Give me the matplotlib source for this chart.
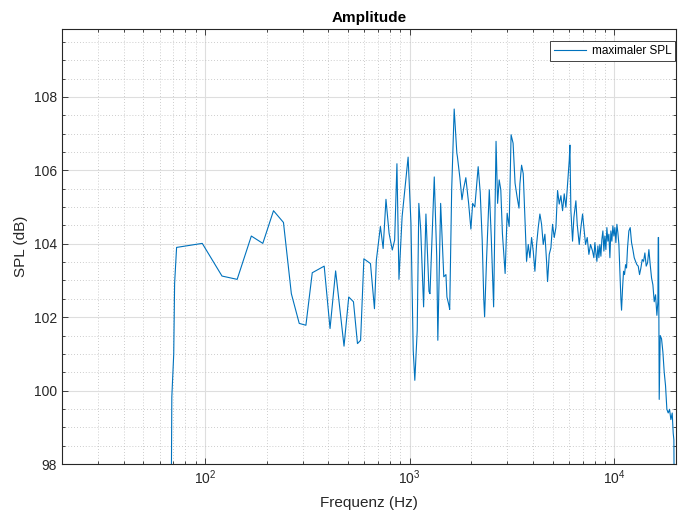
import matplotlib
matplotlib.use("Agg")
import matplotlib.pyplot as plt
from matplotlib.ticker import LogLocator, MultipleLocator, NullFormatter

# maximaler SPL
freq = [67.3, 68.8, 70.3, 71.0, 72.6, 96.9, 121, 143.5, 168.3, 191.5,
        216, 241.6, 264, 288.5, 311, 334, 382, 408, 434.5, 477.5,
        503.5, 531, 555.5, 575.4, 597, 643, 672.5, 687, 719, 741.5,
        765.5, 793, 822, 844, 866, 886, 918, 982, 1014, 1040,
        1059, 1088, 1108, 1132, 1169, 1200, 1242, 1256, 1318, 1355, 1372,
        1416, 1467, 1503, 1520, 1553, 1568, 1603, 1649, 1660, 1699, 1710, 1758,
        1800, 1833, 1880, 1940, 1990, 2030, 2080, 2160, 2210, 2260,
        2300, 2322, 2373, 2448, 2502, 2570, 2641, 2688, 2736, 2786,
        2837, 2925, 2992, 3061, 3128, 3199, 3271, 3343, 3419,
        3454, 3520, 3586, 3654, 3723, 3794, 3866, 3939, 4013, 4089,
        4167, 4245, 4325, 4408, 4491, 4576, 4662, 4715, 4805, 4896,
        4988, 5083, 5179, 5277, 5377, 5478, 5582, 5688, 5796, 5905,
        6017, 6062, 6130, 6246, 6341, 6485, 6583, 6733, 6860, 6990,
        7096, 7230, 7367, 7505, 7647, 7821, 7939,
        8030, 8121, 8213, 8306, 8400, 8494, 8591, 8687, 8786, 8885,
        8985, 9087, 9190, 9293, 9398, 9506, 9613, 9722, 9832, 9945,
        10056, 10170, 10285, 10401, 10520, 10640, 10757, 10839, 10962, 11086,
        11212, 11339, 11465, 11595, 11770, 11948, 12130, 12314, 12500, 12689,
        12880, 13075, 13272, 13473, 13677, 13884, 14093, 14306, 14522, 14742,
        14962, 15190, 15421, 15654, 15890, 16130, 16312, 16374, 16435, 16558,
        16745, 16999, 17256, 17516, 17780, 18048, 18320, 18598, 18880, 19164,
        19381, 19527, 19650]
spl = [90.0, 99.82, 101.0, 102.92, 103.90, 104.01, 103.12, 103.03, 104.21, 104.01,
       104.90, 104.58, 102.64, 101.83, 101.78, 103.21, 103.39, 101.69, 103.26, 101.21,
       102.55, 102.42, 101.28, 101.37, 103.59, 103.46, 102.23, 103.55, 104.47, 103.87,
       105.21, 104.28, 103.83, 104.10, 106.18, 103.03, 104.74, 106.36, 104.56, 101.10,
       100.28, 101.64, 105.10, 104.37, 102.28, 104.81, 102.70, 102.64, 105.82, 103.65, 101.37,
       105.10, 103.10, 103.16, 102.55, 102.33, 102.21, 105.46, 107.67, 107.40, 106.47, 106.37, 105.8,
       105.2, 105.5, 105.8, 105.1, 104.4, 105.1, 105.0, 106.1, 105.4, 104.1,
       102.5, 102.01, 103.56, 105.47, 104.19, 102.28, 106.79, 105.10, 105.74, 105.47,
       104.28, 103.19, 104.83, 104.47, 106.97, 106.74, 105.65, 105.29, 104.97,
       105.63, 106.14, 105.91, 104.72, 103.52, 103.98, 103.62, 104.17, 103.80, 103.25,
       103.98, 104.44, 104.81, 104.53, 103.98, 104.26, 103.52, 102.97, 103.71, 103.89,
       104.53, 104.17, 104.44, 105.45, 105.08, 105.31, 104.90, 105.36, 104.99, 105.63,
       106.27, 106.69, 104.90, 104.07, 104.72, 105.17, 104.53, 103.98, 104.44, 104.81,
       104.44, 103.98, 104.17, 103.71, 103.98, 103.80, 103.62,
       104.03, 103.75, 103.52, 103.94, 103.62, 103.98, 103.66, 104.12, 104.35, 103.80,
       104.21, 103.84, 104.44, 104.07, 104.26, 103.62, 104.35, 104.07, 104.49, 104.21,
       104.44, 104.03, 104.53, 104.30, 103.98, 103.25, 102.51, 102.19, 102.79, 103.25,
       103.16, 103.43, 103.34, 103.89, 104.35, 104.44, 104.03, 103.84, 103.62, 103.52,
       103.43, 103.39, 103.16, 103.34, 103.57, 103.52, 103.75, 103.39, 103.48, 103.84,
       103.43, 103.07, 102.88, 102.42, 102.61, 102.05, 102.42, 104.17, 104.17, 99.76,
       101.50, 101.41, 101.05, 100.50, 100.13, 99.49, 99.39, 99.49, 99.21, 99.39,
       98.84, 98.66, 96.0]

plt.rcParams['font.family'] = ['Liberation Sans', 'DejaVu Sans']
dark = '#262626'

fig = plt.figure(figsize=(6.81, 5.12), dpi=100)
ax = fig.add_axes([62/681, 1 - 464/512, (676 - 62)/681, (464 - 29)/512])

ax.semilogx(freq, spl, color='#0072BD', lw=0.8, label='maximaler SPL')

ax.set_xlim(20, 20000)
ax.set_ylim(98, 109.85)
ax.set_yticks(range(98, 110, 2))
ax.yaxis.set_minor_locator(MultipleLocator(0.5))
ax.xaxis.set_minor_locator(LogLocator(base=10, subs=range(2, 10)))
ax.xaxis.set_minor_formatter(NullFormatter())

ax.grid(which='major', color='#dedede', lw=0.8)
ax.grid(which='minor', color='#bcbcbc', ls=(0, (1, 2.5)), lw=0.6)
ax.set_axisbelow(True)

ax.tick_params(which='both', direction='in', top=True, right=True,
               colors=dark, labelsize=10, width=0.6)
ax.tick_params(which='major', length=4)
ax.tick_params(which='minor', length=2.5)
for s in ax.spines.values():
    s.set_color(dark)
    s.set_linewidth(0.8)

ax.set_xlabel('Frequenz (Hz)', fontsize=11, color=dark, labelpad=6)
ax.set_ylabel('SPL (dB)', fontsize=11, color=dark)
ax.set_title('Amplitude', fontsize=11, fontweight='bold', pad=5)

leg = ax.legend(loc='upper right', bbox_to_anchor=(0.999, 0.973), borderaxespad=0,
                fontsize=8.5, fancybox=False, edgecolor=dark, framealpha=1,
                handlelength=2.7, handletextpad=0.5, borderpad=0.35)
leg.get_frame().set_linewidth(0.6)

fig.savefig('out.png', dpi=100)
